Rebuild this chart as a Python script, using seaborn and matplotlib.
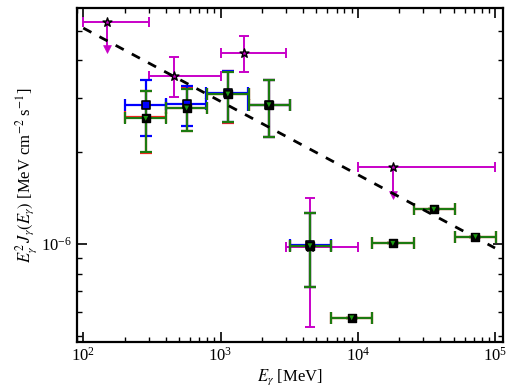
import numpy as np
import pandas as pd
import matplotlib
matplotlib.use("Agg")
import matplotlib.pyplot as plt
import seaborn as sns
from matplotlib.ticker import LogLocator, NullFormatter

# magenta series (stars), two of them upper limits
mag_e = [150, 460, 1490, 4480, 17900]
mag_e_lo = [100, 300, 1000, 3000, 10000]
mag_e_hi = [300, 1000, 3000, 10000, 100000]
mag_f = [5.34e-6, 3.55e-6, 4.24e-6, 0.98e-6, 1.79e-6]
mag_f_lo = [5.34e-6, 3.02e-6, 3.67e-6, 0.535e-6, 1.79e-6]
mag_f_hi = [5.34e-6, 4.09e-6, 4.81e-6, 1.42e-6, 1.79e-6]
mag_ul_tip = [4.36e-6, np.nan, np.nan, np.nan, 1.45e-6]

# blue series (squares)
blue_e = [285, 566, 1130, 2250, 4480]
blue_e_lo = [200, 400, 790, 1590, 3200]
blue_e_hi = [400, 790, 1590, 3200, 6370]
blue_f = [2.85e-6, 2.88e-6, 3.12e-6, 2.86e-6, 0.99e-6]
blue_f_lo = [2.26e-6, 2.44e-6, 2.51e-6, 2.25e-6, 0.725e-6]
blue_f_hi = [3.44e-6, 3.30e-6, 3.70e-6, 3.45e-6, 1.26e-6]

# red series (mostly hidden under green)
red_e = [285, 566, 1130, 2250, 4480, 9020, 18000, 35800, 72000]
red_e_lo = [200, 400, 800, 1600, 3200, 6370, 12700, 25600, 51000]
red_e_hi = [400, 800, 1600, 3200, 6370, 12700, 25600, 51000, 101000]
red_f = [2.60e-6, 2.80e-6, 3.10e-6, 2.86e-6, 0.987e-6, 0.573e-6, 1.005e-6, 1.30e-6, 1.057e-6]
red_f_lo = [1.99e-6, 2.34e-6, 2.50e-6, 2.25e-6, 0.725e-6, 0.573e-6, 1.005e-6, 1.30e-6, 1.057e-6]
red_f_hi = [3.17e-6, 3.24e-6, 3.68e-6, 3.45e-6, 1.26e-6, 0.573e-6, 1.005e-6, 1.30e-6, 1.057e-6]

# green series (triangles)
green_e = [285, 566, 1130, 2250, 4480, 9020, 18000, 35800, 72000]
green_e_lo = [200, 400, 800, 1600, 3200, 6370, 12700, 25600, 51000]
green_e_hi = [400, 800, 1600, 3200, 6370, 12700, 25600, 51000, 101000]
green_f = [2.58e-6, 2.79e-6, 3.10e-6, 2.86e-6, 0.987e-6, 0.573e-6, 1.005e-6, 1.30e-6, 1.057e-6]
green_f_lo = [2.00e-6, 2.35e-6, 2.51e-6, 2.25e-6, 0.725e-6, 0.573e-6, 1.005e-6, 1.30e-6, 1.057e-6]
green_f_hi = [3.16e-6, 3.23e-6, 3.67e-6, 3.45e-6, 1.26e-6, 0.573e-6, 1.005e-6, 1.30e-6, 1.057e-6]

# dashed power-law line endpoints
fit_e = [100, 100000]
fit_f = [5.1e-6, 0.97e-6]

sns.set_theme(style="ticks")
plt.rcParams.update({
    "font.family": ["Liberation Serif", "DejaVu Serif"],
    "mathtext.fontset": "stix",
    "font.size": 11,
    "text.color": "black",
    "axes.labelcolor": "black",
    "axes.edgecolor": "black",
    "xtick.color": "black",
    "ytick.color": "black",
    "axes.linewidth": 1.6,
    "xtick.direction": "in",
    "ytick.direction": "in",
    "xtick.top": True,
    "ytick.right": True,
    "xtick.major.size": 7,
    "ytick.major.size": 7,
    "xtick.minor.size": 3.5,
    "ytick.minor.size": 3.5,
    "xtick.major.width": 1.2,
    "ytick.major.width": 1.2,
    "xtick.minor.width": 1.0,
    "ytick.minor.width": 1.0,
})

fig = plt.figure(figsize=(5.1, 3.92), dpi=100)
ax = fig.add_axes([0.151, 0.128, 0.835, 0.852])


def draw(e, lo, hi, f, flo, fhi, color, lw, cap, z):
    e = np.asarray(e, float)
    f = np.asarray(f, float)
    xerr = [e - np.asarray(lo), np.asarray(hi) - e]
    yerr = [f - np.asarray(flo), np.asarray(fhi) - f]
    ax.errorbar(e, f, xerr=xerr, yerr=yerr, fmt="none", ecolor=color,
                elinewidth=lw, capsize=cap, capthick=lw, zorder=z)


draw(mag_e, mag_e_lo, mag_e_hi, mag_f, mag_f_lo, mag_f_hi, "#C800C8", 1.4, 3.5, 2)
draw(red_e, red_e_lo, red_e_hi, red_f, red_f_lo, red_f_hi, "#FF2020", 1.6, 4.3, 3)
draw(blue_e, blue_e_lo, blue_e_hi, blue_f, blue_f_lo, blue_f_hi, "#0000FF", 1.6, 4.3, 4)
draw(green_e, green_e_lo, green_e_hi, green_f, green_f_lo, green_f_hi, "#1C7A10", 1.6, 4.3, 5)

# upper-limit arrows
ul = pd.DataFrame({"e": mag_e, "f": mag_f, "tip": mag_ul_tip}).dropna()
ax.vlines(ul["e"], ul["tip"], ul["f"], color="#C800C8", lw=1.4, zorder=2)
sns.scatterplot(x=ul["e"], y=ul["tip"], marker="v", s=32, color="#C800C8",
                edgecolor="#C800C8", ax=ax, zorder=2, legend=False)

# power-law line
sns.lineplot(x=fit_e, y=fit_f, ax=ax, color="black", lw=2.0,
             dashes=False, zorder=6).lines[-1].set_dashes((3.3, 3.3))

# markers
sns.scatterplot(x=mag_e, y=mag_f, marker="*", s=45, color="#C800C8",
                edgecolor="black", linewidth=1.0, ax=ax, zorder=7, legend=False)
sns.scatterplot(x=blue_e, y=blue_f, marker="s", s=28, color="#0000FF",
                edgecolor="black", linewidth=1.2, ax=ax, zorder=7, legend=False)
sns.scatterplot(x=green_e, y=green_f, marker="s", s=28, color="black",
                edgecolor="black", linewidth=1.0, ax=ax, zorder=8, legend=False)
sns.scatterplot(x=green_e, y=green_f, marker="v", s=12, color="#1C9A10",
                edgecolor="none", ax=ax, zorder=9, legend=False)

ax.set_xscale("log")
ax.set_yscale("log")
ax.set_xlim(90, 114000)
ax.set_ylim(4.78e-7, 5.94e-6)
ax.xaxis.set_major_locator(LogLocator(base=10))
ax.xaxis.set_minor_locator(LogLocator(base=10, subs=np.arange(2, 10)))
ax.yaxis.set_minor_locator(LogLocator(base=10, subs=np.arange(2, 10)))
ax.xaxis.set_minor_formatter(NullFormatter())
ax.yaxis.set_minor_formatter(NullFormatter())
ax.tick_params(labelsize=12)

ax.set_xlabel(r"$E_\gamma$ [MeV]", fontsize=12, labelpad=2)
ax.set_ylabel(r"$E_\gamma^2\,J_\gamma(E_\gamma)$ [MeV cm$^{-2}$ s$^{-1}$]",
              fontsize=12, labelpad=2)

fig.savefig("out.png", dpi=100)
